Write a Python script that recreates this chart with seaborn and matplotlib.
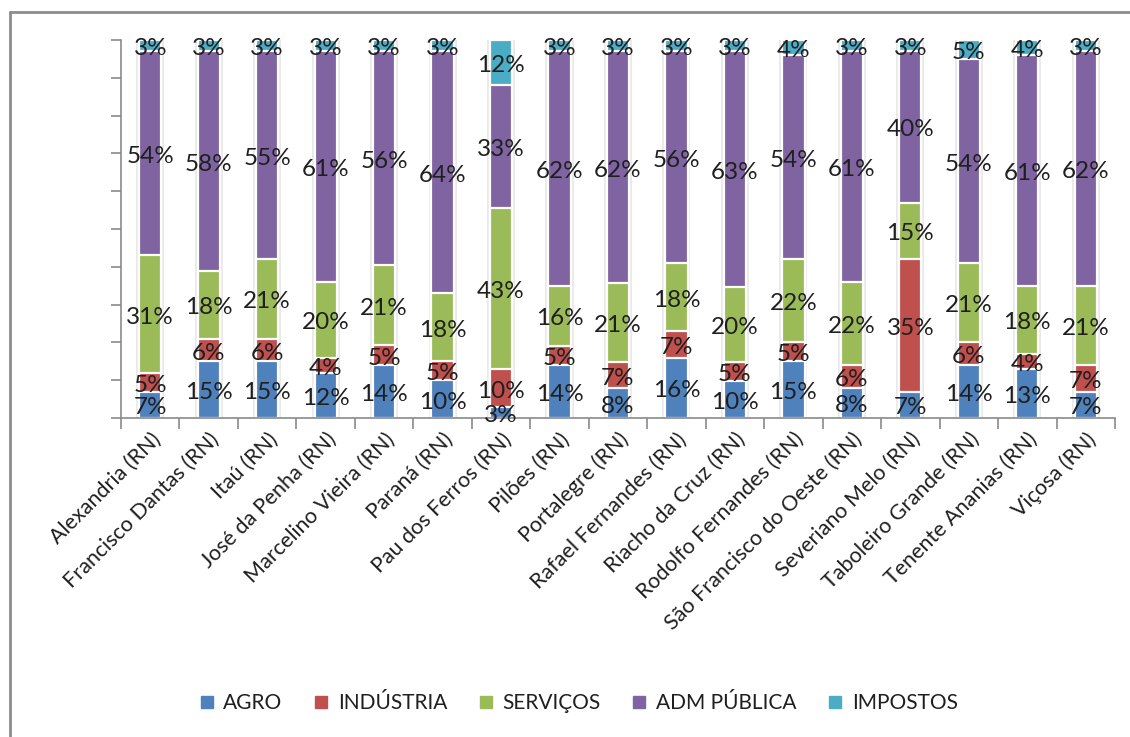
import numpy as np
import pandas as pd
import matplotlib
matplotlib.use("Agg")
import matplotlib.pyplot as plt
from matplotlib.lines import Line2D
from matplotlib.ticker import MultipleLocator, FixedLocator
import seaborn as sns

# Municipalities of the region (RN) and sector shares of GDP (%)
cities = [
    "Alexandria (RN)", "Francisco Dantas (RN)", "Itaú (RN)", "José da Penha (RN)",
    "Marcelino Vieira (RN)", "Paraná (RN)", "Pau dos Ferros (RN)", "Pilões (RN)",
    "Portalegre (RN)", "Rafael Fernandes (RN)", "Riacho da Cruz (RN)",
    "Rodolfo Fernandes (RN)", "São Francisco do Oeste (RN)", "Severiano Melo (RN)",
    "Taboleiro Grande (RN)", "Tenente Ananias (RN)", "Viçosa (RN)",
]
agro      = [7, 15, 15, 12, 14, 10, 3, 14, 8, 16, 10, 15, 8, 7, 14, 13, 7]
industria = [5, 6, 6, 4, 5, 5, 10, 5, 7, 7, 5, 5, 6, 35, 6, 4, 7]
servicos  = [31, 18, 21, 20, 21, 18, 43, 16, 21, 18, 20, 22, 22, 15, 21, 18, 21]
adm_publica = [54, 58, 55, 61, 56, 64, 33, 62, 62, 56, 63, 54, 61, 40, 54, 61, 62]
impostos  = [3, 3, 3, 3, 3, 3, 12, 3, 3, 3, 3, 4, 3, 3, 5, 4, 3]

series_names = ["AGRO", "INDÚSTRIA", "SERVIÇOS", "ADM PÚBLICA", "IMPOSTOS"]
series_colors = ["#4F81BD", "#C0504D", "#9BBB59", "#8064A2", "#4BACC6"]

values = pd.DataFrame(
    {name: vals for name, vals in zip(series_names,
                                      [agro, industria, servicos, adm_publica, impostos])},
    index=cities,
)
# 100% stacked: each column is scaled by its own total
shares = values.div(values.sum(axis=1), axis=0) * 100
tops = shares.cumsum(axis=1)
bottoms = tops - shares

sns.set_theme(style="white")
plt.rcParams["font.family"] = ["Lato", "DejaVu Sans"]
text_color = "#1f1f1f"
axis_color = "#8a8a8a"

fig = plt.figure(figsize=(11.3, 7.37), dpi=100)
ax = fig.add_axes([0.1071, 0.4328, 0.8796, 0.5129])

bar_w = 0.38
# soft shadow behind each column
sns.barplot(x=cities, y=tops.iloc[:, -1].values, color="#e9e9e9", width=bar_w + 0.1,
            ax=ax, linewidth=0, saturation=1)
# stacked segments: draw cumulative totals from the top series down
for name, color in zip(reversed(series_names), reversed(series_colors)):
    sns.barplot(x=cities, y=tops[name].values, color=color, width=bar_w, ax=ax,
                edgecolor="white", linewidth=1.6, saturation=1)

# value labels centred in each segment
for i, city in enumerate(cities):
    for name in series_names:
        y = bottoms.loc[city, name] + shares.loc[city, name] / 2
        ax.text(i, y - 0.8, f"{values.loc[city, name]:d}%", ha="center", va="center",
                fontsize=17.5, color=text_color, zorder=5)

ax.set_xlim(-0.5, len(cities) - 0.5)
ax.set_ylim(0, 100)
ax.set_xlabel("")
ax.set_ylabel("")

for side in ["top", "right"]:
    ax.spines[side].set_visible(False)
for side in ["left", "bottom"]:
    ax.spines[side].set_color(axis_color)
    ax.spines[side].set_linewidth(1.2)

ax.yaxis.set_major_locator(MultipleLocator(10))
ax.tick_params(axis="y", which="major", left=True, length=7, width=1.2,
               color=axis_color, labelleft=False)

ax.xaxis.set_minor_locator(FixedLocator(np.arange(-0.5, len(cities), 1.0)))
ax.tick_params(axis="x", which="minor", bottom=True, length=8, width=1.2,
               color=axis_color)
ax.tick_params(axis="x", which="major", bottom=True, length=0, pad=8)
ax.set_xticks(range(len(cities)))
ax.set_xticklabels(cities, rotation=45, ha="right", va="top",
                   rotation_mode="anchor", fontsize=15.5, color=text_color)

handles = [Line2D([0], [0], marker="s", linestyle="none", markersize=8.5,
                  markerfacecolor=c, markeredgecolor=c) for c in series_colors]
fig.legend(handles, series_names, loc="center", bbox_to_anchor=(0.512, 0.046),
           ncol=5, frameon=False, fontsize=15, handlelength=0.7,
           handletextpad=0.45, columnspacing=1.5, labelcolor=text_color)

# chart frame
fig.add_artist(Line2D([0.009, 1.0], [0.984, 0.984], color="#8c8c8c", lw=2,
                      transform=fig.transFigure))
fig.add_artist(Line2D([0.009, 0.009], [0.0, 0.984], color="#8c8c8c", lw=2,
                      transform=fig.transFigure))

fig.savefig("out.png", dpi=100)
